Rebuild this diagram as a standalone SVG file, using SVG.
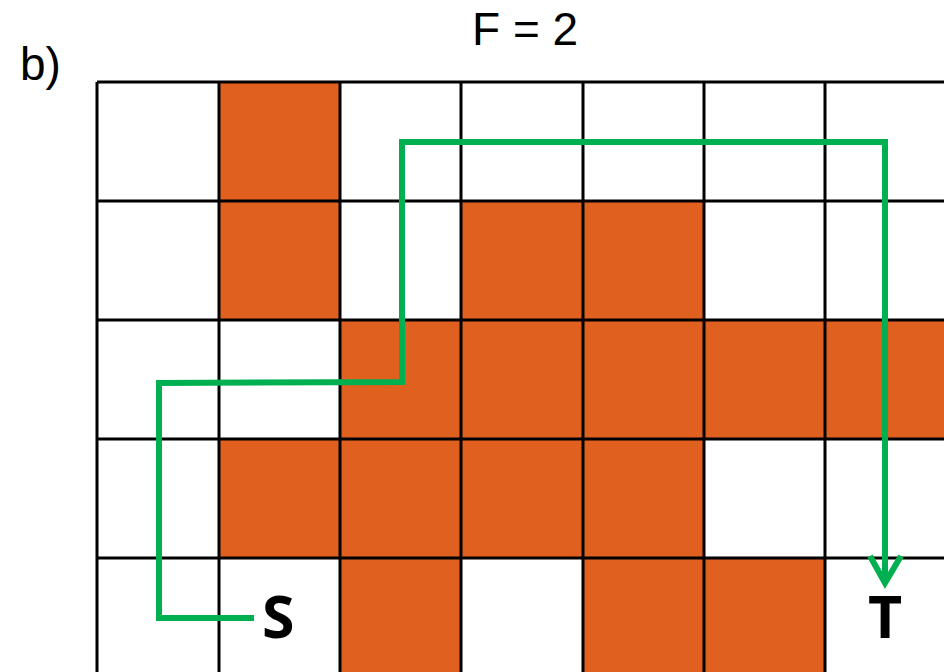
<svg xmlns="http://www.w3.org/2000/svg" width="944" height="672" viewBox="0 0 944 672">
<style>
.cell{fill:#E06020}
.grid{stroke:#000;stroke-width:3;fill:none}
.path{stroke:#00B050;stroke-width:6;fill:none;stroke-linejoin:miter}
.lbl{font-family:"Liberation Sans",Arial,sans-serif;font-size:46px;fill:#000}
.st{font-family:"Open Sans","Liberation Sans",sans-serif;font-weight:bold;font-size:59px;fill:#000}
</style>
<rect width="944" height="672" fill="#fff"/>
<g id="cells">
<rect class="cell" x="219" y="82" width="121" height="119"/>
<rect class="cell" x="219" y="201" width="121" height="119"/>
<rect class="cell" x="461" y="201" width="122" height="119"/>
<rect class="cell" x="583" y="201" width="121" height="119"/>
<rect class="cell" x="340" y="320" width="604" height="119"/>
<rect class="cell" x="219" y="439" width="485" height="119"/>
<rect class="cell" x="340" y="558" width="121" height="114"/>
<rect class="cell" x="583" y="558" width="242" height="114"/>
</g>
<g id="grid" class="grid">
<path d="M97,82V672M219,82V672M340,82V672M461,82V672M583,82V672M704,82V672M825,82V672"/>
<path d="M97,82H944M97,201H944M97,320H944M97,439H944M97,558H944"/>
</g>
<g id="connectors">
<path class="path" d="M254,618H159V383L402,382V142H885V584"/>
<polyline class="path" points="870,556 885,583 901,556"/>
</g>
<g id="labels">
<text class="lbl" x="20" y="80">b)</text>
<text class="lbl" x="472" y="45">F = 2</text>
<g id="S"><text class="st" x="262" y="638">S</text></g>
<g id="T"><text class="st" x="885" y="638" text-anchor="middle">T</text></g>
</g>
</svg>
